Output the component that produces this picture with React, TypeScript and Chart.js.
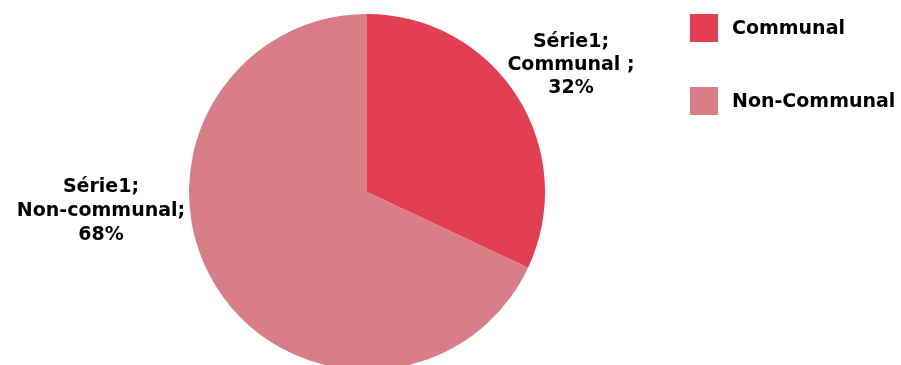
import React, { useEffect, useRef } from "react";
import { Chart, registerables } from "chart.js";

Chart.register(...registerables);

const categories = ["Communal", "Non-Communal"];
const labelNames = ["Communal ;", "Non-communal;"];
const seriesName = "Série1";
const values = [32, 68];
const colors = ["#E33E51", "#D97E86"];

const FONT = "bold 19px 'DejaVu Sans', sans-serif";

const labelPlugin = {
  id: "labelsAndLegend",
  afterDraw(chart: any) {
    const ctx = chart.ctx;
    const meta = chart.getDatasetMeta(0);
    ctx.save();
    ctx.font = FONT;
    ctx.fillStyle = "#000";
    ctx.textAlign = "center";
    ctx.textBaseline = "alphabetic";
    meta.data.forEach((arc: any, i: number) => {
      const lines = [seriesName + ";", labelNames[i], values[i] + "%"];
      const lh = i === 0 ? 23 : 24;
      const x = i === 0 ? 571 : 101;
      const y = i === 0 ? 47 : 192;
      lines.forEach((t, k) => ctx.fillText(t, x, y + k * lh));
    });
    ctx.textAlign = "left";
    ctx.textBaseline = "middle";
    categories.forEach((c, i) => {
      const top = 14 + i * 73;
      ctx.fillStyle = colors[i];
      ctx.fillRect(690, top, 28, 28);
      ctx.fillStyle = "#000";
      ctx.fillText(c, 732, top + 15);
    });
    ctx.restore();
  },
};

export default function App() {
  const ref = useRef<HTMLCanvasElement>(null);
  useEffect(() => {
    document.body.style.margin = "0";
    const chart = new Chart(ref.current!, {
      type: "pie",
      data: {
        labels: categories,
        datasets: [
          {
            label: seriesName,
            data: values,
            backgroundColor: colors,
            borderWidth: 0,
          },
        ],
      },
      options: {
        animation: false,
        responsive: false,
        maintainAspectRatio: false,
        layout: { padding: { left: 189, right: 356, top: 14, bottom: 10 } },
        plugins: { legend: { display: false }, tooltip: { enabled: false } },
      },
      plugins: [labelPlugin],
    });
    return () => chart.destroy();
  }, []);
  return (
    <div style={{ width: 901, height: 365, overflow: "hidden" }}>
      <canvas ref={ref} width={901} height={380} style={{ display: "block" }} />
    </div>
  );
}
